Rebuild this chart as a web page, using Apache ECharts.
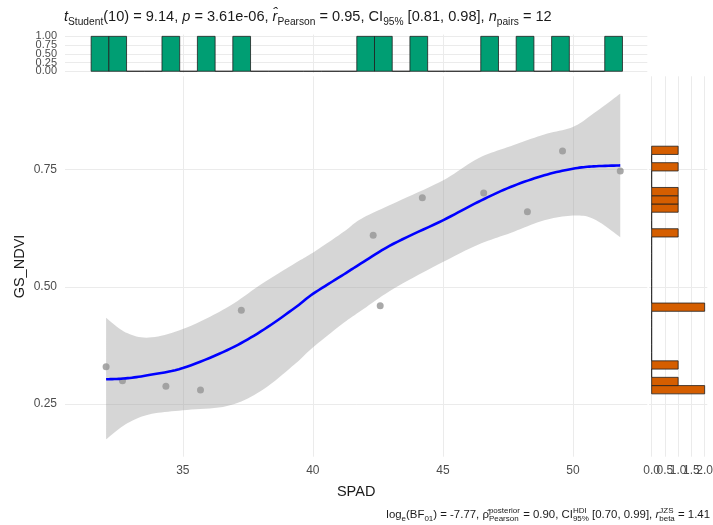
<!DOCTYPE html>
<html><head><meta charset="utf-8">
<script src="https://cdn.jsdelivr.net/npm/echarts@6/dist/echarts.min.js"></script>
<style>html,body{margin:0;padding:0;background:#fff}#c{width:713px;height:525px}</style>
</head><body><div id="c"></div>
<script>
// ---- data ----
const spad   = [32.05, 32.68, 34.35, 35.68, 37.25, 42.32, 42.59, 44.21, 46.57, 48.25, 49.6, 51.82];
const gsNdvi = [0.33, 0.30, 0.288, 0.28, 0.45, 0.61, 0.46, 0.69, 0.70, 0.66, 0.79, 0.747];

const smoothX     = [32.05, 32.8, 33.7, 35, 36.7, 38, 39.3, 40, 41.2, 41.85, 43.1, 45, 46.35, 47.6, 48.9, 50, 50.8, 51.82];
const smoothFit   = [0.303, 0.305, 0.312, 0.327, 0.365, 0.405, 0.455, 0.485, 0.527, 0.55, 0.592, 0.642, 0.681, 0.713, 0.738, 0.752, 0.757, 0.759];
const smoothLower = [0.175, 0.207, 0.228, 0.237, 0.246, 0.278, 0.335, 0.371, 0.424, 0.449, 0.496, 0.553, 0.59, 0.615, 0.642, 0.652, 0.645, 0.606];
const smoothUpper = [0.434, 0.403, 0.392, 0.410, 0.456, 0.505, 0.55, 0.573, 0.618, 0.645, 0.678, 0.727, 0.774, 0.80, 0.825, 0.841, 0.870, 0.912];

const xBinOrigin = 31.475, xBinWidth = 0.681;
const xBinCounts = [1,1,0,0,1,0,1,0,1,0,0,0,0,0,0,1,1,0,1,0,0,0,1,0,1,0,1,0,0,1];
const yBinOrigin = 0.272, yBinWidth = 0.0176;
const yBinCounts = [2,1,0,1,0,0,0,0,0,0,2,0,0,0,0,0,0,0,0,1,0,0,1,1,1,0,0,1,0,1];

const xTicks = [35, 40, 45, 50];
const yTicks = [0.25, 0.5, 0.75];
const topTicks = [0, 0.25, 0.5, 0.75, 1];
const rightTicks = [0, 0.5, 1, 1.5, 2];

const xLabel = 'SPAD', yLabel = 'GS_NDVI';

// ---- helpers ----
const FAM = '"Liberation Sans", Arial, sans-serif';
const mctx = document.createElement('canvas').getContext('2d');
function tw(t, size, italic) { mctx.font = (italic ? 'italic ' : '') + size + 'px ' + FAM; return mctx.measureText(t).width; }
function layoutWidth(segs, b) {
  let w = 0;
  segs.forEach(s => {
    if (s.stack) w += Math.max(tw(s.sup, b * 0.7), tw(s.sub, b * 0.7));
    else w += tw(s.t, s.pos ? b * 0.7 : b, s.i);
  });
  return w;
}
function buildText(segs, b, x0, baseY, color) {
  const els = []; let x = x0;
  const add = (t, size, italic, dy) => {
    els.push({ type: 'text', x: x, y: baseY + dy - 0.33 * size, silent: true,
      style: { text: t, fontSize: size, fontFamily: FAM, fontStyle: italic ? 'italic' : 'normal',
        fill: color, align: 'left', verticalAlign: 'middle' } });
  };
  segs.forEach(s => {
    if (s.stack) {
      const sz = b * 0.7;
      add(s.sup, sz, false, -0.45 * b);
      add(s.sub, sz, false, 0.3 * b);
      x += Math.max(tw(s.sup, sz), tw(s.sub, sz));
    } else {
      const sz = s.pos ? b * 0.7 : b;
      const dy = s.pos === 'sub' ? 0.3 * b : (s.pos === 'sup' ? -0.45 * b : 0);
      add(s.t, sz, s.i, dy);
      x += tw(s.t, sz, s.i);
    }
  });
  return els;
}
// Catmull-Rom smoothing of a pixel-space polyline (rendering only)
function spline(pts, n) {
  const out = [];
  for (let i = 0; i < pts.length - 1; i++) {
    const p0 = pts[Math.max(i - 1, 0)], p1 = pts[i], p2 = pts[i + 1], p3 = pts[Math.min(i + 2, pts.length - 1)];
    for (let k = 0; k < n; k++) {
      const t = k / n, t2 = t * t, t3 = t2 * t;
      const f = j => 0.5 * (2 * p1[j] + (-p0[j] + p2[j]) * t + (2 * p0[j] - 5 * p1[j] + 4 * p2[j] - p3[j]) * t2 + (-p0[j] + 3 * p1[j] - 3 * p2[j] + p3[j]) * t3);
      out.push([f(0), f(1)]);
    }
  }
  out.push(pts[pts.length - 1]);
  return out;
}

const titleSegs = [
  {t:'t', i:true}, {t:'Student', pos:'sub'}, {t:'(10) = 9.14, '}, {t:'p', i:true}, {t:' = 3.61e-06, '},
  {t:'r\u0302', i:true}, {t:'Pearson', pos:'sub'}, {t:' = 0.95, CI'}, {t:'95%', pos:'sub'},
  {t:' [0.81, 0.98], '}, {t:'n', i:true}, {t:'pairs', pos:'sub'}, {t:' = 12'}
];
const capSegs = [
  {t:'log'}, {t:'e', pos:'sub'}, {t:'(BF'}, {t:'01', pos:'sub'}, {t:') = -7.77, '},
  {t:'\u03C1\u0302'}, {stack:true, sup:'posterior', sub:'Pearson'}, {t:' = 0.90, CI'},
  {stack:true, sup:'HDI', sub:'95%'}, {t:' [0.70, 0.99], '}, {t:'r', i:true},
  {stack:true, sup:'JZS', sub:'beta'}, {t:' = 1.41'}
];
const titleB = 14 * 488 / layoutWidth(titleSegs, 14);
const capB = 11 * 324 / layoutWidth(capSegs, 11);
const capW = layoutWidth(capSegs, capB);
const graphics = buildText(titleSegs, titleB, 64, 21.5, '#1a1a1a')
  .concat(buildText(capSegs, capB, 710 - capW, 518.5, '#1a1a1a'));

// ---- chart ----
const GRID = '#ebebeb', TXT = '#4d4d4d';
const X0 = 30.47, X1 = 52.86, Y0 = 0.138, Y1 = 0.949;
const gridMain = { left: 65, top: 76.3, width: 582.3, height: 380.4, outerBoundsMode: 'none' };
const gridTop = { left: 65, top: 34.6, width: 582.3, height: 38.4, outerBoundsMode: 'none' };
const gridRight = { left: 649, top: 76.3, width: 58.3, height: 380.4, outerBoundsMode: 'none' };

const lblStyle = { color: TXT, fontSize: 12, fontFamily: FAM, hideOverlap: false, showMinLabel: true, showMaxLabel: true };
function valAxis(gi, min, max, ticks, showLabels, extra) {
  return Object.assign({
    type: 'value', gridIndex: gi, min: min, max: max,
    axisLine: { show: false }, axisTick: { show: false, customValues: ticks },
    axisLabel: Object.assign({}, lblStyle, { show: showLabels, customValues: ticks }),
    splitLine: { show: true, lineStyle: { color: GRID, width: 1 } }
  }, extra || {});
}
// label-only axis (labels that would overlap their neighbours are split over two axes)
function labelAxis(gi, pos, min, max, vals, fmt, extraLbl) {
  return { type: 'value', gridIndex: gi, position: pos, offset: 0, min: min, max: max,
    axisLine: { show: false }, axisTick: { show: false, customValues: vals }, splitLine: { show: false },
    axisLabel: Object.assign({}, lblStyle, { show: true, customValues: vals, margin: 8, formatter: fmt }, extraLbl || {}) };
}

const xBins = xBinCounts.map((c, i) => [xBinOrigin + i * xBinWidth, xBinOrigin + (i + 1) * xBinWidth, c]);
const yBins = yBinCounts.map((c, i) => [yBinOrigin + i * yBinWidth, yBinOrigin + (i + 1) * yBinWidth, c]);
const evenOf = a => a.filter((v, i) => i % 2 === 0), oddOf = a => a.filter((v, i) => i % 2 === 1);

const option = {
  animation: false,
  backgroundColor: '#fff',
  graphic: graphics,
  grid: [gridMain, gridTop, gridRight],
  xAxis: [
    valAxis(0, X0, X1, xTicks, true, {
      position: 'bottom',
      axisLabel: Object.assign({}, lblStyle, { show: true, customValues: xTicks, margin: 8, formatter: v => String(v) }),
      name: xLabel, nameLocation: 'middle', nameGap: 28, nameMoveOverlap: false,
      nameTextStyle: { color: '#1a1a1a', fontSize: 14.5, fontFamily: FAM } }),
    valAxis(1, X0, X1, xTicks, false, { position: 'bottom' }),
    valAxis(2, -0.1, 2.1, rightTicks, false, { position: 'bottom' }),
    labelAxis(2, 'bottom', -0.1, 2.1, evenOf(rightTicks), v => v.toFixed(1)),
    labelAxis(2, 'bottom', -0.1, 2.1, oddOf(rightTicks), v => v.toFixed(1))
  ],
  yAxis: [
    valAxis(0, Y0, Y1, yTicks, true, {
      position: 'left',
      axisLabel: Object.assign({}, lblStyle, { show: true, customValues: yTicks, margin: 8, formatter: v => v.toFixed(2) }),
      name: yLabel, nameLocation: 'middle', nameGap: 38, nameRotate: 90, nameMoveOverlap: false,
      nameTextStyle: { color: '#1a1a1a', fontSize: 14.5, fontFamily: FAM } }),
    valAxis(1, -0.05, 1.05, topTicks, false, { position: 'left' }),
    valAxis(2, Y0, Y1, yTicks, false, { position: 'left' }),
    labelAxis(1, 'left', -0.05, 1.05, evenOf(topTicks), v => v.toFixed(2), { fontSize: 11 }),
    labelAxis(1, 'left', -0.05, 1.05, oddOf(topTicks), v => v.toFixed(2), { fontSize: 11 })
  ],
  series: [
    { type: 'scatter', xAxisIndex: 0, yAxisIndex: 0, symbolSize: 7,
      itemStyle: { color: 'rgba(0,0,0,0.42)' }, data: spad.map((x, i) => [x, gsNdvi[i]]), z: 1 },
    { type: 'custom', xAxisIndex: 0, yAxisIndex: 0, silent: true, z: 2, data: [[smoothX[0], smoothLower[0]]],
      renderItem: (p, api) => {
        const up = spline(smoothX.map((x, i) => api.coord([x, smoothUpper[i]])), 10);
        const lo = spline(smoothX.map((x, i) => api.coord([x, smoothLower[i]])), 10);
        return { type: 'polygon', shape: { points: up.concat(lo.reverse()) },
          style: { fill: 'rgba(153,153,153,0.4)' } };
      } },
    { type: 'custom', xAxisIndex: 0, yAxisIndex: 0, silent: true, z: 3, data: [[smoothX[0], smoothFit[0]]],
      renderItem: (p, api) => {
        const pts = spline(smoothX.map((x, i) => api.coord([x, smoothFit[i]])), 10);
        return { type: 'polyline', shape: { points: pts },
          style: { fill: 'none', stroke: '#0000ff', lineWidth: 2.6, lineJoin: 'round' } };
      } },
    { type: 'custom', xAxisIndex: 1, yAxisIndex: 1, clip: false, data: xBins,
      encode: { x: [0, 1], y: 2 },
      renderItem: (p, api) => {
        const a = api.coord([api.value(0), 0]), b = api.coord([api.value(1), api.value(2)]);
        return { type: 'rect', shape: { x: a[0], y: b[1], width: b[0] - a[0], height: a[1] - b[1] },
          style: { fill: '#009E73', stroke: '#1f1f1f', lineWidth: 0.8 } };
      } },
    { type: 'custom', xAxisIndex: 2, yAxisIndex: 2, clip: false, data: yBins,
      encode: { y: [0, 1], x: 2 },
      renderItem: (p, api) => {
        const a = api.coord([0, api.value(0)]), b = api.coord([api.value(2), api.value(1)]);
        return { type: 'rect', shape: { x: a[0], y: b[1], width: b[0] - a[0], height: a[1] - b[1] },
          style: { fill: '#D55E00', stroke: '#1f1f1f', lineWidth: 0.8 } };
      } }
  ]
};
echarts.init(document.getElementById('c'), null, { renderer: 'canvas' }).setOption(option);
</script>
</body></html>
